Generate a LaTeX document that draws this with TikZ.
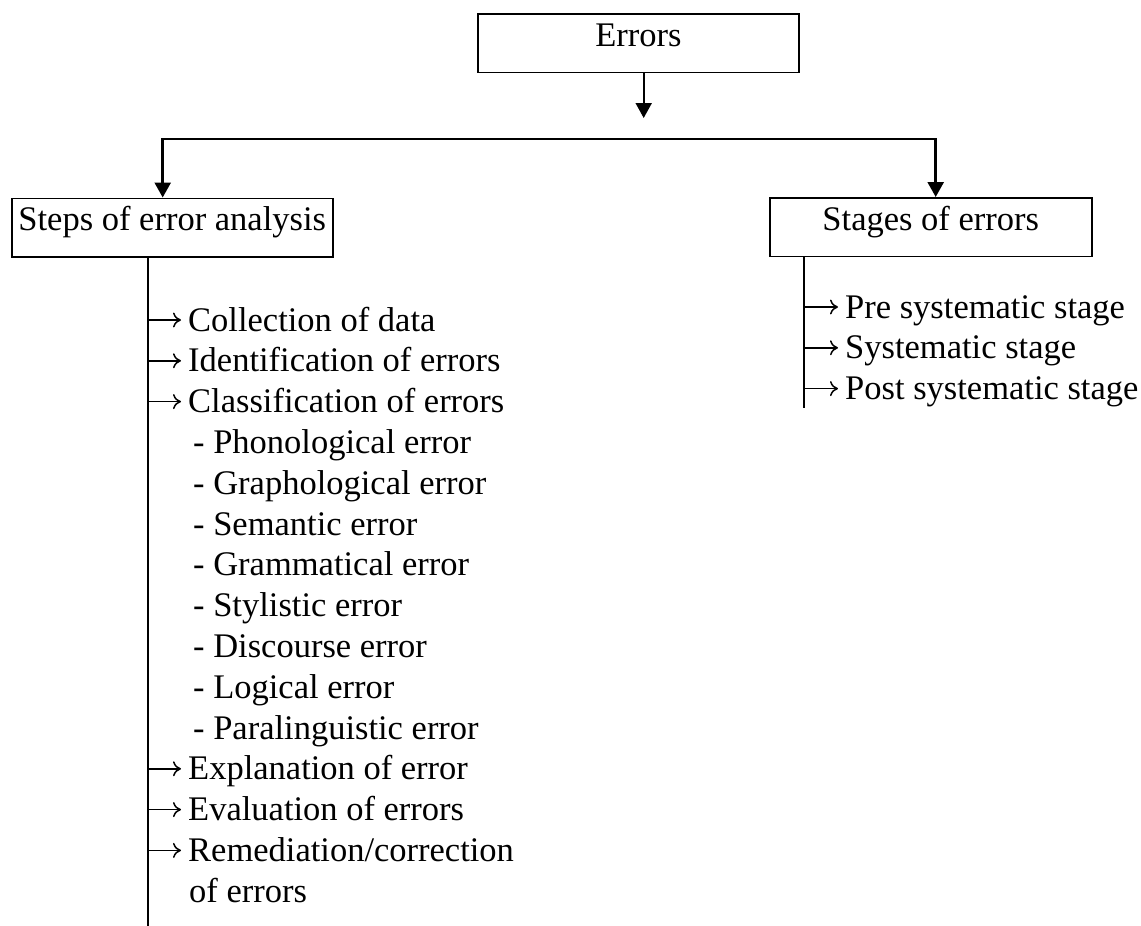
\documentclass[tikz,border=0pt]{standalone}
\usepackage{fontspec}
\setmainfont{Liberation Serif}
\usetikzlibrary{arrows.meta,calc}
\begin{document}
\begin{tikzpicture}[x=1pt,y=-1pt,
  every node/.style={font=\fontsize{34.5pt}{40pt}\selectfont},
  box/.style={draw,line width=1.8pt,inner xsep=0pt,inner ysep=0pt,text height=32.5pt,text depth=26pt,anchor=north west},
  item/.style={anchor=base west,inner sep=0pt},
  main/.style={line width=2pt,-{Triangle[length=15pt,width=16pt]}},
  bar/.style={line width=2.6pt,{Triangle[length=15pt,width=16pt]}-{Triangle[length=15pt,width=16pt]}},
  spine/.style={line width=2pt},
  tip/.style={line width=1.5pt,-{To[length=8pt,width=15pt]},shorten >=7pt}]
\useasboundingbox (0,0) rectangle (1141,926);

% boxes
\node[box,minimum width=321pt] (err) at (477,13) {Errors};
\node[box,minimum width=320.7pt] (steps) at (11,197.5) {Steps of error analysis};
\node[box,minimum width=321.7pt] (stages) at (769,197) {Stages of errors};

% connectors between boxes
\coordinate (drop) at (643.7,118);
\draw[main] (drop |- err.south) -- (drop);
\coordinate (bl) at (162.7,139);
\coordinate (br) at (935.7,139);
\draw[bar] (bl |- steps.north) -- (bl) -- (br) -- (br |- stages.north);

% spines
\coordinate (lend) at (148,926);
\draw[spine] (lend |- steps.south) -- (lend);
\coordinate (rend) at (804,408);
\draw[spine] (rend |- stages.south) -- (rend);

% left items
\node[item] (a1) at (188,331) {Collection of data};
\node[item] (a2) at (188,371.8) {Identification of errors};
\node[item] (a3) at (188,412.6) {Classification of errors};
\node[item] (a4) at (193,453.4) {- Phonological error};
\node[item] (a5) at (193,494.2) {- Graphological error};
\node[item] (a6) at (193,535) {- Semantic error};
\node[item] (a7) at (193,575.8) {- Grammatical error};
\node[item] (a8) at (193,616.6) {- Stylistic error};
\node[item] (a9) at (193,657.4) {- Discourse error};
\node[item] (a10) at (193,698.2) {- Logical error};
\node[item] (a11) at (193,739) {- Paralinguistic error};
\node[item] (a12) at (188,779.8) {Explanation of error};
\node[item] (a13) at (188,820.6) {Evaluation of errors};
\node[item] (a14) at (188,861.4) {Remediation/correction};
\node[item] (a15) at (189,902.2) {of errors};

\foreach \n in {a1,a2,a3,a12,a13,a14}
  \draw[tip] ($(lend |- \n.base)+(0,-11)$) -- ($(\n.base west)+(0,-11)$);

% right items
\node[item] (b1) at (845,318) {Pre systematic stage};
\node[item] (b2) at (845,358.8) {Systematic stage};
\node[item] (b3) at (845,399.6) {Post systematic stage};

\foreach \n in {b1,b2,b3}
  \draw[tip] ($(rend |- \n.base)+(0,-11)$) -- ($(\n.base west)+(0,-11)$);
\end{tikzpicture}
\end{document}
